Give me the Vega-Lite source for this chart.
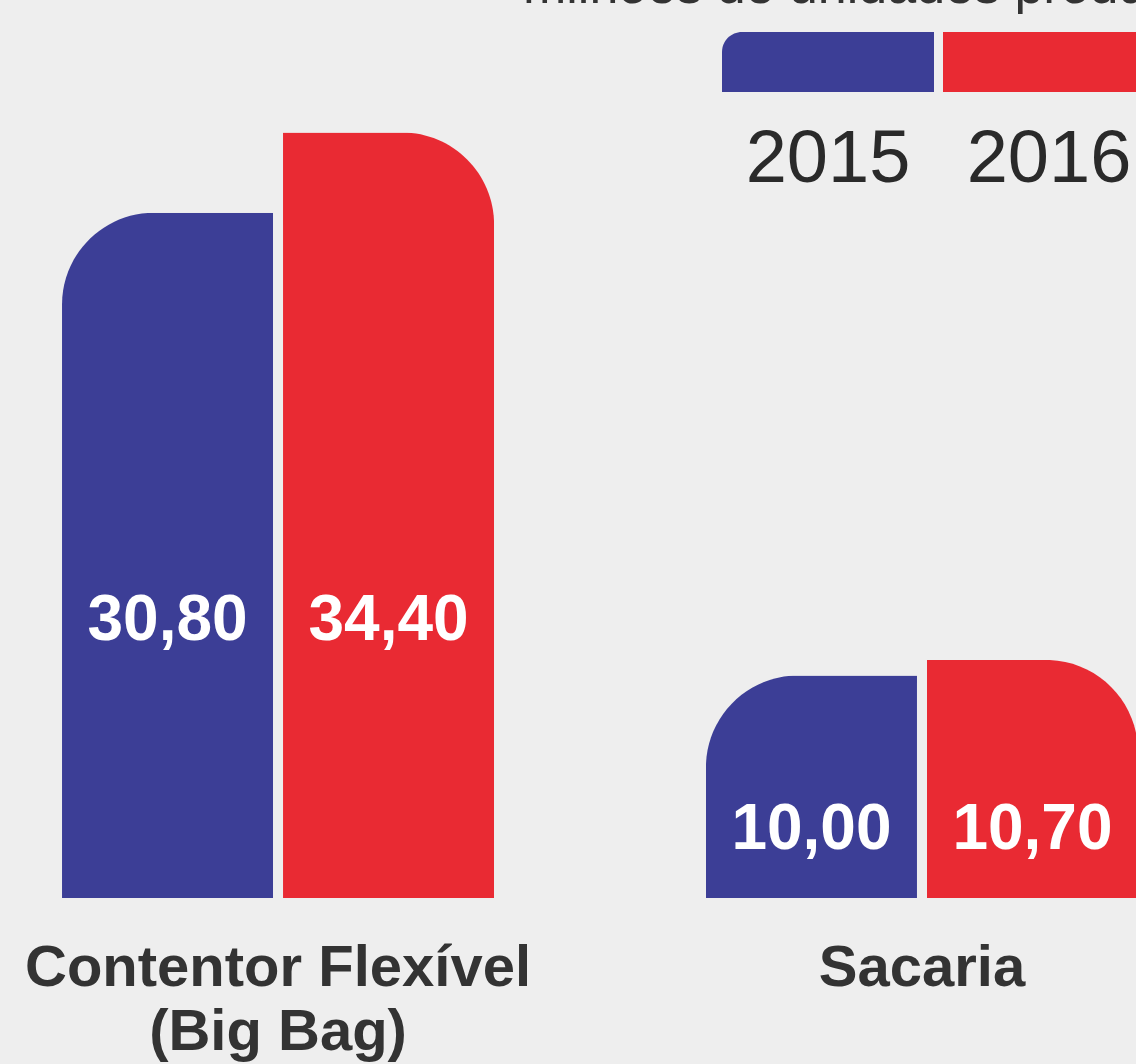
{
  "$schema": "https://vega.github.io/schema/vega-lite/v6.json",
  "width": 1200,
  "height": 898,
  "autosize": {"type": "none"},
  "padding": {"left": 0, "top": 0, "right": 0, "bottom": 166},
  "background": "#eeeeee",
  "config": {
    "view": {"stroke": null},
    "font": "Liberation Sans"
  },
  "data": {
    "values": [
      {"category": "Contentor Flexível (Big Bag)", "year": "2015", "value": 30.8, "label": "30,80"},
      {"category": "Contentor Flexível (Big Bag)", "year": "2016", "value": 34.4, "label": "34,40"},
      {"category": "Sacaria", "year": "2015", "value": 10.0, "label": "10,00"},
      {"category": "Sacaria", "year": "2016", "value": 10.7, "label": "10,70"}
    ]
  },
  "encoding": {
    "x": {
      "field": "category",
      "type": "nominal",
      "sort": ["Contentor Flexível (Big Bag)", "Sacaria"],
      "scale": {"paddingInner": 0.329, "paddingOuter": 0.0963},
      "axis": {
        "title": null,
        "domain": false,
        "ticks": false,
        "labelAngle": 0,
        "labelFontSize": 58,
        "labelFontWeight": "bold",
        "labelColor": "#333333",
        "labelPadding": 41,
        "labelLineHeight": 64,
        "labelLimit": 0,
        "labelExpr": "datum.value == 'Sacaria' ? 'Sacaria' : ['Contentor Flexível', '(Big Bag)']"
      }
    },
    "xOffset": {
      "field": "year",
      "type": "nominal",
      "scale": {"domain": ["2015", "2016"], "paddingInner": 0.045}
    }
  },
  "layer": [
    {
      "mark": {
        "type": "bar",
        "cornerRadiusTopLeft": {"expr": "datum.year == '2015' ? 92 : 0"},
        "cornerRadiusTopRight": {"expr": "datum.year == '2016' ? 92 : 0"}
      },
      "encoding": {
        "y": {
          "field": "value",
          "type": "quantitative",
          "scale": {"domain": [0, 40.36], "nice": false},
          "axis": null
        },
        "color": {
          "field": "year",
          "type": "nominal",
          "scale": {"domain": ["2015", "2016"], "range": ["#3c3e96", "#e92a33"]},
          "legend": {
            "orient": "none",
            "legendX": 523,
            "legendY": -44,
            "direction": "horizontal",
            "title": "milhões de unidades produzidas",
            "titleFontSize": 52,
            "titleFontWeight": "normal",
            "titleColor": "#333333",
            "titleAnchor": "start",
            "titleBaseline": "top",
            "titlePadding": -52,
            "titleLimit": 0,
            "padding": 0,
            "symbolSize": 44944,
            "symbolStrokeWidth": 0,
            "symbolOpacity": 1,
            "labelOffset": -106,
            "labelAlign": "center",
            "labelFontSize": 74,
            "labelLimit": 0,
            "labelColor": "#2a2a2a",
            "columnPadding": 9,
            "encoding": {
              "title": {
                "dx": {"value": -199},
                "dy": {"value": 6}
              },
              "symbols": {
                "shape": {"value": {"expr": "datum.value == '2015' ? 'M-1,0.283 L-1,-0.094 A0.189,0.189 0 0 1 -0.811,-0.283 L1,-0.283 L1,0.283 Z' : 'M-1,-0.283 L0.811,-0.283 A0.189,0.189 0 0 1 1,-0.094 L1,0.283 L-1,0.283 Z'"}}
              },
              "labels": {
                "dy": {"value": 98}
              }
            }
          }
        }
      }
    },
    {
      "transform": [
        {"joinaggregate": [{"op": "min", "field": "value", "as": "minv"}], "groupby": ["category"]}
      ],
      "mark": {
        "type": "text",
        "color": "white",
        "fontSize": 64,
        "fontWeight": "bold",
        "align": "center",
        "baseline": "middle"
      },
      "encoding": {
        "y": {
          "field": "minv",
          "type": "quantitative",
          "scale": {"domain": [3.23, 92.6], "nice": false, "zero": false},
          "axis": null
        },
        "text": {"field": "label"}
      }
    }
  ],
  "resolve": {"scale": {"y": "independent"}}
}
